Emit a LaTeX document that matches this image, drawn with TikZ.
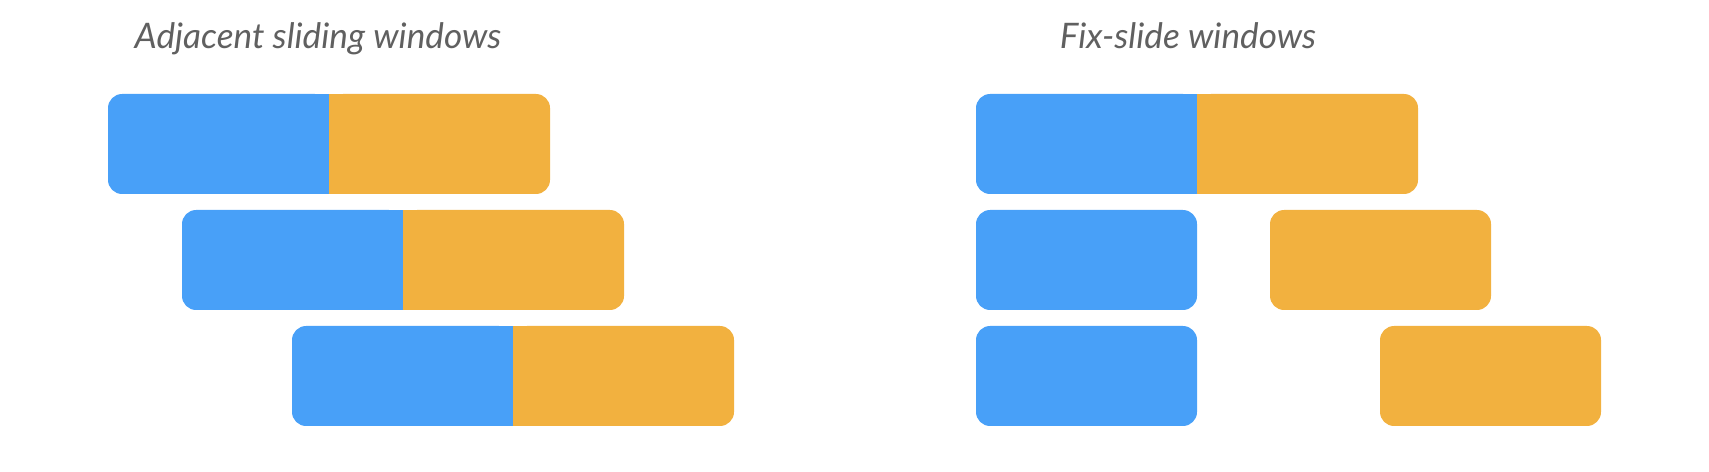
\documentclass[tikz,border=0pt]{standalone}
\usepackage{fontspec}
\setmainfont{Lato}
\definecolor{winblue}{HTML}{48A0F8}
\definecolor{winorange}{HTML}{F2B13F}
\definecolor{titlegrey}{HTML}{606060}
\begin{document}
\begin{tikzpicture}
		\tikzset{win/.style={rectangle, rounded corners=8pt, inner sep=0, minimum width=4.42cm, minimum height=2cm},
			titel/.style={anchor=base, text=titlegrey, font=\itshape\fontsize{20}{24}\selectfont}}
		\useasboundingbox (0,0) rectangle (34.18,9.44);

		\node[titel] at (6.36, 8.46) (t1) {Adjacent sliding windows};
		\node[titel] at (23.76, 8.46) (t2) {Fix-slide windows};

		% Adjacent windows
		\node[win, fill=winblue] at (4.37, 6.56) (b1) {};
		\node[win, fill=winorange] at (8.79, 6.56) (o1) {};
		\node[win, fill=winblue] at (5.85, 4.24) (b2) {};
		\node[win, fill=winorange] at (10.27, 4.24) (o2) {};
		\node[win, fill=winblue] at (8.05, 1.92) (b3) {};
		\node[win, fill=winorange] at (12.47, 1.92) (o3) {};
			\fill[winblue] (b1.north) rectangle (b1.south east);
			\fill[winorange] (o1.north west) rectangle (o1.south);
			\fill[winblue] (b2.north) rectangle (b2.south east);
			\fill[winorange] (o2.north west) rectangle (o2.south);
			\fill[winblue] (b3.north) rectangle (b3.south east);
			\fill[winorange] (o3.north west) rectangle (o3.south);

		% Fix-slide windows
		\node[win, fill=winblue] at (21.73, 6.56) (b4) {};
		\node[win, fill=winorange] at (26.15, 6.56) (o4) {};
		\node[win, fill=winblue] at (21.73, 4.24) (b5) {};
		\node[win, fill=winorange] at (27.61, 4.24) (o5) {};
		\node[win, fill=winblue] at (21.73, 1.92) (b6) {};
		\node[win, fill=winorange] at (29.81, 1.92) (o6) {};
			\fill[winblue] (b4.north) rectangle (b4.south east);
			\fill[winorange] (o4.north west) rectangle (o4.south);
\end{tikzpicture}
\end{document}
